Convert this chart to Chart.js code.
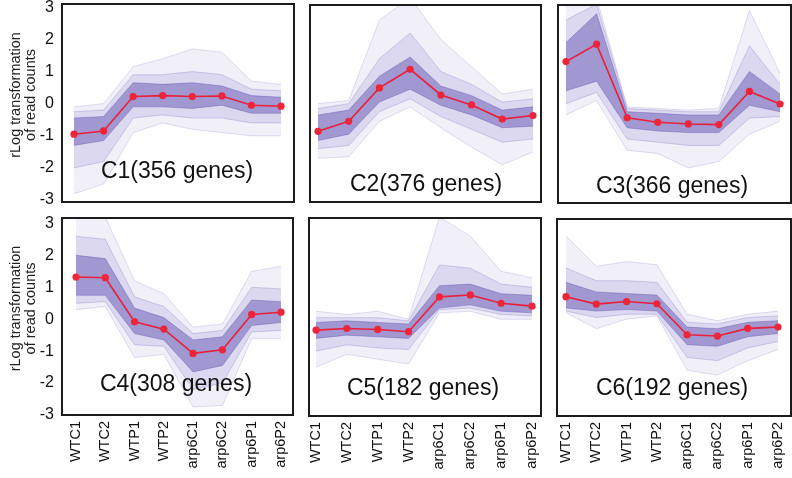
<!DOCTYPE html>
<html>
<head>
<meta charset="utf-8">
<script src="https://cdn.jsdelivr.net/npm/chart.js@4.4.1/dist/chart.umd.min.js"></script>
<style>
  body { margin: 0; width: 792px; height: 478px; overflow: hidden; background: #fff; position: relative;
         font-family: Arial, "Liberation Sans", sans-serif; }
  canvas { position: absolute; }
  .ttl { position: absolute; font-size: 23px; color: #111; white-space: nowrap; transform: translate(-50%, -50%); }
</style>
</head>
<body>
<script>
// samples on the x axis and y tick values
const categories = ['WTC1', 'WTC2', 'WTP1', 'WTP2', 'arp6C1', 'arp6C2', 'arp6P1', 'arp6P2'];
const yTicks = [-3, -2, -1, 0, 1, 2, 3];
const clusterNames = ['C1(356 genes)', 'C2(376 genes)', 'C3(366 genes)', 'C4(308 genes)', 'C5(182 genes)', 'C6(192 genes)'];

// cluster means (red line) and spread of the gene lines:
// Lo/Hi = faint outer lines, MidLo/MidHi = most lines, CoreLo/CoreHi = dense centre
const c1Mean   = [-0.95, -0.85, 0.22, 0.25, 0.22, 0.24, -0.05, -0.08];
const c1Lo     = [-2.8, -2.5, -0.9, -0.6, -0.8, -0.9, -1.0, -1.0];
const c1Hi     = [-0.1, 0.0, 1.15, 1.4, 1.7, 1.6, 0.7, 0.6];
const c1MidLo  = [-2.0, -1.8, -0.45, -0.35, -0.45, -0.45, -0.6, -0.6];
const c1MidHi  = [-0.25, -0.2, 0.9, 0.9, 1.0, 0.9, 0.45, 0.4];
const c1CoreLo = [-1.3, -1.15, -0.1, -0.1, -0.15, -0.05, -0.3, -0.3];
const c1CoreHi = [-0.45, -0.4, 0.65, 0.6, 0.65, 0.55, 0.25, 0.2];

const c2Mean   = [-0.86, -0.55, 0.49, 1.07, 0.27, -0.04, -0.48, -0.37];
const c2Lo     = [-1.7, -1.65, -0.55, -0.1, -0.75, -1.35, -1.9, -1.5];
const c2Hi     = [0.0, 0.1, 2.6, 3.3, 2.0, 1.15, 0.3, 0.45];
const c2MidLo  = [-1.4, -1.3, -0.25, 0.15, -0.4, -0.8, -1.2, -1.1];
const c2MidHi  = [-0.15, 0.0, 1.4, 2.2, 1.0, 0.6, 0.05, 0.15];
const c2CoreLo = [-1.15, -0.95, 0.05, 0.45, -0.05, -0.35, -0.75, -0.7];
const c2CoreHi = [-0.35, -0.2, 0.85, 1.45, 0.55, 0.25, -0.2, -0.1];

const c3Mean   = [1.31, 1.85, -0.44, -0.58, -0.63, -0.65, 0.38, -0.01];
const c3Lo     = [-0.35, 0.1, -1.45, -1.55, -2.0, -1.8, -0.95, -0.55];
const c3Hi     = [3.3, 3.3, -0.1, -0.15, -0.2, -0.15, 2.9, 0.95];
const c3MidLo  = [0.0, 0.35, -1.1, -1.2, -1.3, -1.3, -0.45, -0.4];
const c3MidHi  = [2.6, 3.1, -0.15, -0.2, -0.25, -0.25, 1.8, 0.6];
const c3CoreLo = [0.4, 0.7, -0.75, -0.85, -0.9, -0.9, -0.05, -0.25];
const c3CoreHi = [1.9, 2.8, -0.25, -0.3, -0.35, -0.35, 1.0, 0.3];

const c4Mean   = [1.32, 1.3, -0.08, -0.31, -1.07, -0.96, 0.15, 0.22];
const c4Lo     = [0.3, 0.4, -1.2, -1.1, -2.75, -2.7, -0.6, -0.6];
const c4Hi     = [3.2, 3.2, 1.2, 0.8, -0.25, -0.15, 1.5, 1.65];
const c4MidLo  = [0.5, 0.55, -0.8, -0.85, -2.2, -2.0, -0.4, -0.35];
const c4MidHi  = [2.6, 2.5, 0.7, 0.4, -0.45, -0.35, 1.0, 0.95];
const c4CoreLo = [0.75, 0.75, -0.45, -0.65, -1.65, -1.45, -0.2, -0.1];
const c4CoreHi = [2.0, 1.9, 0.35, 0.05, -0.65, -0.55, 0.6, 0.55];

const c5Mean   = [-0.34, -0.29, -0.32, -0.39, 0.7, 0.76, 0.5, 0.41];
const c5Lo     = [-1.5, -1.1, -1.25, -1.4, 0.2, 0.25, 0.0, 0.0];
const c5Hi     = [0.25, 0.15, 0.25, 0.0, 3.2, 2.6, 1.5, 1.3];
const c5MidLo  = [-1.0, -0.8, -0.9, -0.95, 0.3, 0.35, 0.15, 0.1];
const c5MidHi  = [0.05, 0.05, 0.05, -0.05, 1.7, 1.6, 1.1, 1.0];
const c5CoreLo = [-0.6, -0.5, -0.55, -0.6, 0.35, 0.45, 0.25, 0.2];
const c5CoreHi = [-0.1, -0.05, -0.1, -0.15, 1.05, 1.1, 0.8, 0.75];

const c6Mean   = [0.7, 0.47, 0.55, 0.48, -0.49, -0.53, -0.29, -0.25];
const c6Lo     = [0.2, -0.3, 0.0, 0.1, -1.6, -1.75, -1.3, -0.95];
const c6Hi     = [2.6, 1.65, 1.8, 1.7, 0.15, -0.05, 0.15, 0.25];
const c6MidLo  = [0.25, 0.05, 0.15, 0.15, -1.2, -1.3, -0.9, -0.7];
const c6MidHi  = [1.6, 1.2, 1.2, 1.15, -0.1, -0.15, 0.05, 0.1];
const c6CoreLo = [0.35, 0.25, 0.3, 0.25, -0.8, -0.85, -0.55, -0.45];
const c6CoreHi = [1.15, 0.85, 0.8, 0.75, -0.25, -0.3, -0.1, -0.05];

const FONT = 'Arial, "Liberation Sans", sans-serif';

// frame = [left, top, right, bottom] of each plot box in page pixels
const panels = [
  { name: clusterNames[0], mean: c1Mean, bands: [[c1Lo, c1Hi], [c1MidLo, c1MidHi], [c1CoreLo, c1CoreHi]],
    frame: [62, 4, 294, 202], xr: [-0.406, 7.439], yr: [-3.06, 3.10], showY: true, showX: false, title: [177, 170] },
  { name: clusterNames[1], mean: c2Mean, bands: [[c2Lo, c2Hi], [c2MidLo, c2MidHi], [c2CoreLo, c2CoreHi]],
    frame: [310, 5, 541, 202], xr: [-0.26, 7.261], yr: [-3.06, 3.07], showY: false, showX: false, title: [426, 183] },
  { name: clusterNames[2], mean: c3Mean, bands: [[c3Lo, c3Hi], [c3MidLo, c3MidHi], [c3CoreLo, c3CoreHi]],
    frame: [558, 5, 791, 203], xr: [-0.262, 7.359], yr: [-3.09, 3.07], showY: false, showX: false, title: [672, 185] },
  { name: clusterNames[3], mean: c4Mean, bands: [[c4Lo, c4Hi], [c4MidLo, c4MidHi], [c4CoreLo, c4CoreHi]],
    frame: [62, 218, 293, 415], xr: [-0.478, 7.41], yr: [-3.0, 3.17], showY: true, showX: true, title: [176, 383] },
  { name: clusterNames[4], mean: c5Mean, bands: [[c5Lo, c5Hi], [c5MidLo, c5MidHi], [c5CoreLo, c5CoreHi]],
    frame: [309, 218, 541, 416], xr: [-0.227, 7.292], yr: [-3.03, 3.17], showY: false, showX: true, title: [423, 387] },
  { name: clusterNames[5], mean: c6Mean, bands: [[c6Lo, c6Hi], [c6MidLo, c6MidHi], [c6CoreLo, c6CoreHi]],
    frame: [557, 219, 791, 416], xr: [-0.297, 7.429], yr: [-3.03, 3.13], showY: false, showX: true, title: [672, 387] }
];

// outer, middle, core: edge colour and fill colour
const bandStyles = [
  ['rgba(115,105,200,0.28)', 'rgba(120,110,200,0.10)'],
  ['rgba(95,80,185,0.30)', 'rgba(100,85,185,0.16)'],
  ['rgba(75,55,165,0.40)', 'rgba(75,55,165,0.40)']
];

// black box round each plot area
const framePlugin = {
  id: 'frame',
  afterDatasetsDraw(chart) {
    const { ctx, chartArea: a } = chart;
    ctx.save();
    ctx.strokeStyle = '#1c1c1c';
    ctx.lineWidth = 2;
    ctx.strokeRect(a.left, a.top, a.right - a.left, a.bottom - a.top);
    ctx.restore();
  }
};

const pts = arr => arr.map((v, i) => ({ x: i, y: v }));

function makePanel(p) {
  const pad = 4, yW = 62, xH = 62;
  const [l, t, r, b] = p.frame;
  const cl = p.showY ? l - yW : l - pad;
  const ct = t - pad;
  const cw = r + pad - cl;
  const ch = (p.showX ? b + xH : b + pad) - ct;

  const canvas = document.createElement('canvas');
  canvas.width = cw; canvas.height = ch;
  canvas.style.left = cl + 'px'; canvas.style.top = ct + 'px';
  canvas.style.width = cw + 'px'; canvas.style.height = ch + 'px';
  document.body.appendChild(canvas);

  const xScale = {
    type: 'linear', min: p.xr[0], max: p.xr[1], display: p.showX,
    grid: { display: false, drawTicks: false }, border: { display: false },
    afterBuildTicks: s => { s.ticks = categories.map((c, i) => ({ value: i })); },
    ticks: { autoSkip: false, minRotation: 90, maxRotation: 90, padding: 6, color: '#111',
             font: { size: 14.5, family: FONT }, callback: v => categories[v] }
  };
  // keep the plot box where the picture has it: no extra room for edge labels
  if (p.showX) xScale.afterFit = s => { s.height = xH; s.paddingLeft = 0; s.paddingRight = 0; };

  const yScale = {
    min: p.yr[0], max: p.yr[1], display: p.showY,
    grid: { display: false, drawTicks: false }, border: { display: false },
    afterBuildTicks: s => { s.ticks = yTicks.map(v => ({ value: v })); },
    ticks: { padding: 8, color: '#111', font: { size: 16, family: FONT } },
    title: { display: true, text: ['    rLog transformation', '    of read counts'], color: '#222',
             font: { size: 14.5, family: FONT, lineHeight: 1.05 }, padding: { top: 8, bottom: 0 } }
  };
  if (p.showY) yScale.afterFit = s => { s.width = yW; s.paddingTop = 0; s.paddingBottom = 0; };

  // each band = lower edge + upper edge filled down to it
  const datasets = [];
  p.bands.forEach(([lo, hi], k) => {
    const [edge, fillCol] = bandStyles[k];
    datasets.push({ data: pts(lo), fill: false, borderColor: edge, borderWidth: 0.8,
                    pointRadius: 0, tension: 0, order: 10 - 2 * k });
    datasets.push({ data: pts(hi), fill: '-1', borderColor: edge, borderWidth: 0.8, backgroundColor: fillCol,
                    pointRadius: 0, tension: 0, order: 9 - 2 * k });
  });
  datasets.push({ data: pts(p.mean), fill: false, borderColor: '#e8203a', borderWidth: 1.6, order: 0,
                  pointRadius: 3.6, pointBackgroundColor: '#ee2438', pointBorderWidth: 0, tension: 0 });

  new Chart(canvas.getContext('2d'), {
    type: 'line',
    data: { datasets },
    options: {
      responsive: false,
      animation: false,
      layout: { padding: { left: p.showY ? 0 : pad, right: pad, top: pad, bottom: p.showX ? 0 : pad } },
      plugins: { legend: { display: false }, tooltip: { enabled: false } },
      scales: { x: xScale, y: yScale }
    },
    plugins: [framePlugin]
  });

  const ttl = document.createElement('div');
  ttl.className = 'ttl';
  ttl.textContent = p.name;
  ttl.style.left = p.title[0] + 'px';
  ttl.style.top = p.title[1] + 'px';
  document.body.appendChild(ttl);
}

panels.forEach(makePanel);
</script>
</body>
</html>
